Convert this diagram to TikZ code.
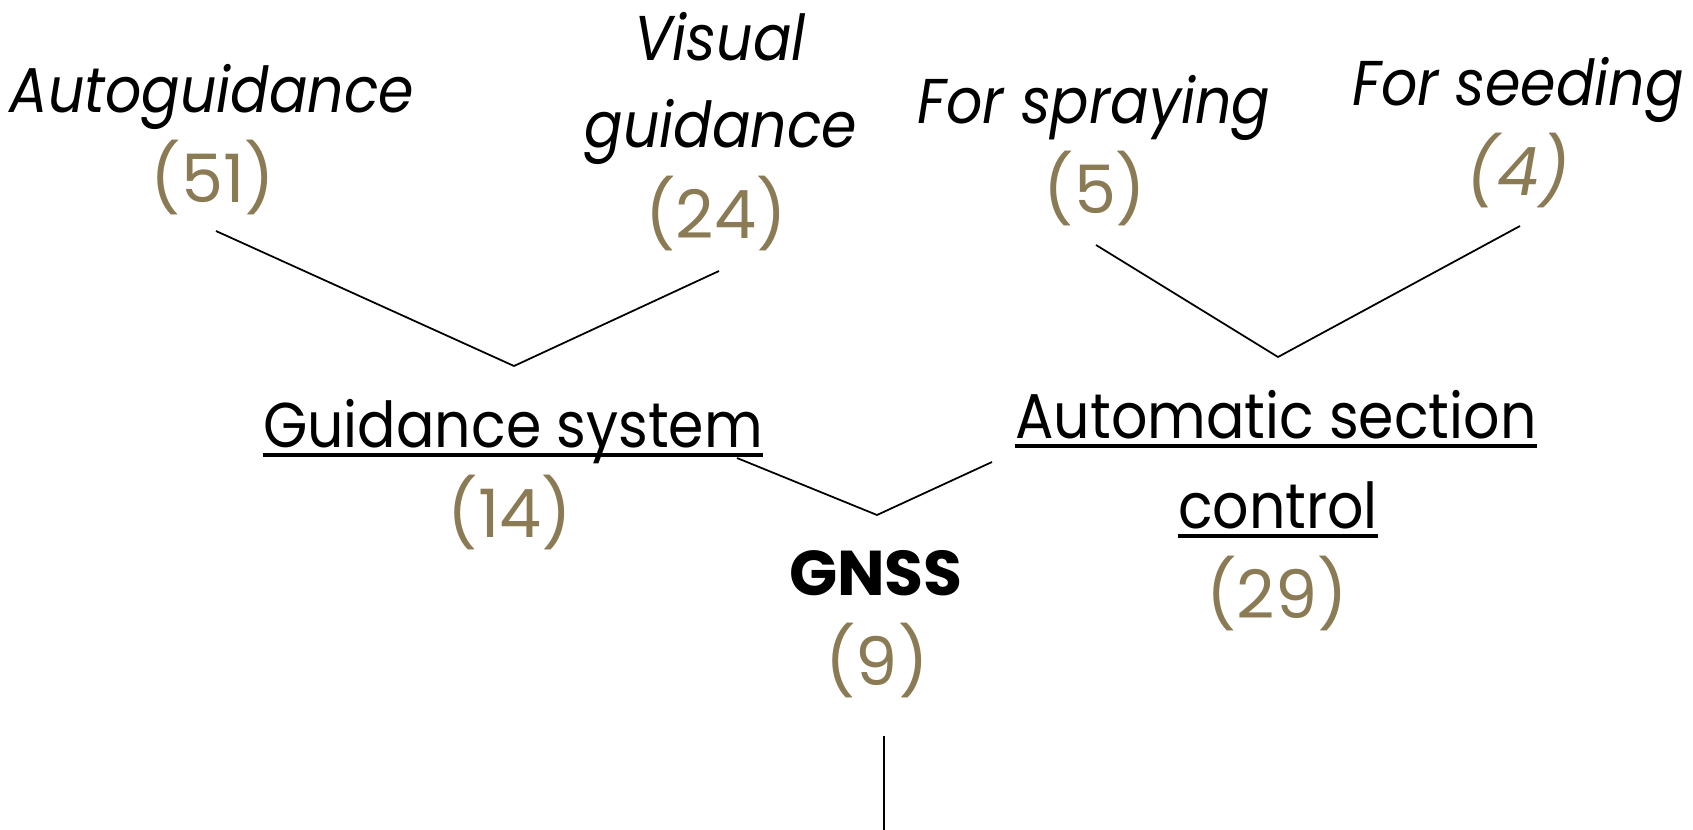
\documentclass[tikz,border=0pt]{standalone}
\usepackage{fontspec}
\setmainfont{Poppins}[FakeStretch=0.9]
\newfontfamily\numfont{Poppins}
\definecolor{numbrown}{RGB}{139,123,85}
\newcommand{\labelsize}{\fontsize{18}{22}\selectfont}
\newcommand{\numsize}{\fontsize{19}{23}\selectfont}
\newcommand{\ulbox}[1]{\setbox0=\hbox{#1}\copy0\llap{\rule[-2.9pt]{\wd0}{1.1pt}}}

\begin{document}
\begin{tikzpicture}[x=0.01cm, y=-0.01cm, font=\labelsize,
    itlabel/.style={font=\labelsize\itshape, anchor=base, inner sep=0pt},
    ullabel/.style={anchor=base, inner sep=0pt},
    count/.style={font=\numsize\numfont, text=numbrown, anchor=base, inner sep=0pt},
    link/.style={line width=0.5pt}]
  \useasboundingbox (0,0) rectangle (1693,830);

  % top labels
  \node[itlabel] (autog) at (212,112) {Autoguidance};
  \node[count] (n51) at (213,202) {(51)};
  \node[itlabel] (visual) at (720,60) {Visual};
  \node[itlabel] (visg) at (721,147) {guidance};
  \node[count] (n24) at (716,238) {(24)};
  \node[itlabel] (spray) at (1094,123) {For spraying};
  \node[count] (n5) at (1095,213) {(5)};
  \node[itlabel] (seed) at (1518,105) {For seeding};
  \node[count, font=\numsize\numfont\itshape] (n4) at (1518,195) {(4)};

  % middle labels
  \node[ullabel] (guid) at (513,447) {\ulbox{Guidance system}};
  \node[count] (n14) at (510,537) {(14)};
  \node[ullabel] (asc1) at (1276,438) {\ulbox{Automatic section}};
  \node[ullabel] (asc2) at (1278,528) {\ulbox{control}};
  \node[count] (n29) at (1277,618) {(29)};

  % root
  \node[font=\labelsize\numfont\bfseries, anchor=base, inner sep=0pt] (gnss) at (876,595) {GNSS};
  \node[count] (n9) at (877,685) {(9)};

  % line ends
  \coordinate (a1) at (216,231);
  \coordinate (a2) at (514,366);
  \coordinate (a3) at (719,271);
  \coordinate (b1) at (1096,245);
  \coordinate (b2) at (1278,357);
  \coordinate (b3) at (1520,226);
  \coordinate (c1) at (737,458);
  \coordinate (c2) at (877,515);
  \coordinate (c3) at (992,462);
  \coordinate (d1) at (884,736);
  \coordinate (d2) at (884,830);

  \draw[link] (a1) -- (a2) -- (a3);
  \draw[link] (b1) -- (b2) -- (b3);
  \draw[link] (c1) -- (c2) -- (c3);
  \draw[link] (d1) -- (d2);
\end{tikzpicture}
\end{document}
